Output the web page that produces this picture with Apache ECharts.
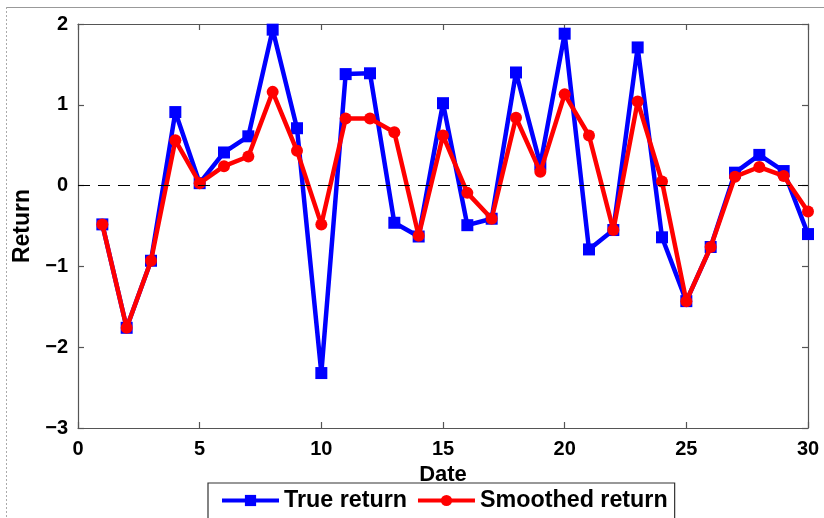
<!DOCTYPE html>
<html><head><meta charset="utf-8">
<script src="https://cdn.jsdelivr.net/npm/echarts@6/dist/echarts.min.js"></script>
<style>html,body{margin:0;padding:0;background:#fff}#c{width:824px;height:518px}</style>
</head><body><div id="c"></div>
<script>
const dates = [1,2,3,4,5,6,7,8,9,10,11,12,13,14,15,16,17,18,19,20,21,22,23,24,25,26,27,28,29,30];
const trueReturn = [-0.48,-1.76,-0.93,0.91,0.03,0.41,0.61,1.93,0.71,-2.32,1.38,1.39,-0.46,-0.63,1.02,-0.49,-0.41,1.40,0.26,1.88,-0.79,-0.55,1.71,-0.64,-1.43,-0.76,0.16,0.38,0.18,-0.60];
const smoothedReturn = [-0.48,-1.76,-0.93,0.56,0.03,0.24,0.36,1.16,0.43,-0.48,0.83,0.83,0.66,-0.62,0.62,-0.09,-0.41,0.84,0.17,1.13,0.62,-0.55,1.04,0.05,-1.43,-0.76,0.11,0.23,0.12,-0.32];
const xTicks = {min: 0, max: 30, interval: 5};
const yTicks = {min: -3, max: 2, interval: 1};
const seriesNames = ['True return', 'Smoothed return'];

const font = '"Liberation Sans", Arial, Helvetica, sans-serif';
const minus = v => String(v).replace('-', '\u2212');
const axisLineStyle = {color: '#555', width: 1.2};

const chart = echarts.init(document.getElementById('c'), null, {renderer: 'canvas'});
chart.setOption({
  backgroundColor: '#fff',
  animation: false,
  graphic: [
    {type: 'line', shape: {x1: 6, y1: 7.5, x2: 824, y2: 7.5}, style: {stroke: '#999', lineWidth: 1}},
    {type: 'line', shape: {x1: 6.5, y1: 7, x2: 6.5, y2: 518}, style: {stroke: '#aaa', lineWidth: 1, lineDash: [2, 2]}}
  ],
  grid: {left: 78, top: 24, right: 16, bottom: 90, containLabel: false},
  legend: {
    data: seriesNames,
    left: 208, top: 483,
    orient: 'horizontal',
    borderColor: '#333', borderWidth: 1.2,
    padding: [6, 7, 30, 12],
    itemGap: 9,
    itemWidth: 57, itemHeight: 14,
    lineStyle: {width: 4},
    textStyle: {fontFamily: font, fontWeight: 'bold', fontSize: 23.3, color: '#000'}
  },
  xAxis: [{
    type: 'value', min: xTicks.min, max: xTicks.max, interval: xTicks.interval,
    position: 'bottom',
    name: 'Date', nameLocation: 'middle', nameGap: 36,
    nameTextStyle: {fontFamily: font, fontWeight: 'bold', fontSize: 22, color: '#000'},
    axisLine: {show: true, onZero: false, lineStyle: axisLineStyle},
    axisTick: {show: true, inside: true, length: 6, lineStyle: axisLineStyle},
    axisLabel: {fontFamily: font, fontWeight: 'bold', fontSize: 20, color: '#000', margin: 11, formatter: minus},
    splitLine: {show: false}
  }, {
    type: 'value', min: xTicks.min, max: xTicks.max, interval: xTicks.interval,
    position: 'top',
    axisLine: {show: true, onZero: false, lineStyle: axisLineStyle},
    axisTick: {show: true, inside: true, length: 6, lineStyle: axisLineStyle},
    axisLabel: {show: false},
    splitLine: {show: false}
  }],
  yAxis: [{
    type: 'value', min: yTicks.min, max: yTicks.max, interval: yTicks.interval,
    position: 'left',
    name: 'Return', nameLocation: 'middle', nameGap: 44, nameRotate: 90,
    nameTextStyle: {fontFamily: font, fontWeight: 'bold', fontSize: 23, color: '#000'},
    axisLine: {show: true, onZero: false, lineStyle: axisLineStyle},
    axisTick: {show: true, inside: true, length: 6, lineStyle: axisLineStyle},
    axisLabel: {fontFamily: font, fontWeight: 'bold', fontSize: 20, color: '#000', margin: 10, formatter: minus},
    splitLine: {show: false}
  }, {
    type: 'value', min: yTicks.min, max: yTicks.max, interval: yTicks.interval,
    position: 'right',
    axisLine: {show: true, onZero: false, lineStyle: axisLineStyle},
    axisTick: {show: true, inside: true, length: 6, lineStyle: axisLineStyle},
    axisLabel: {show: false},
    splitLine: {show: false}
  }],
  series: [{
    name: seriesNames[0], type: 'line',
    data: dates.map((d, i) => [d, trueReturn[i]]),
    symbol: 'rect', symbolSize: 12,
    lineStyle: {color: '#0000ff', width: 4.5},
    itemStyle: {color: '#0000ff'},
    z: 3,
    markLine: {
      silent: true, symbol: 'none', label: {show: false},
      lineStyle: {color: '#000', type: [12, 8], width: 1},
      data: [{yAxis: 0}]
    }
  }, {
    name: seriesNames[1], type: 'line',
    data: dates.map((d, i) => [d, smoothedReturn[i]]),
    symbol: 'circle', symbolSize: 12,
    lineStyle: {color: '#ff0000', width: 4.5},
    itemStyle: {color: '#ff0000'},
    z: 4
  }]
});
</script></body></html>
